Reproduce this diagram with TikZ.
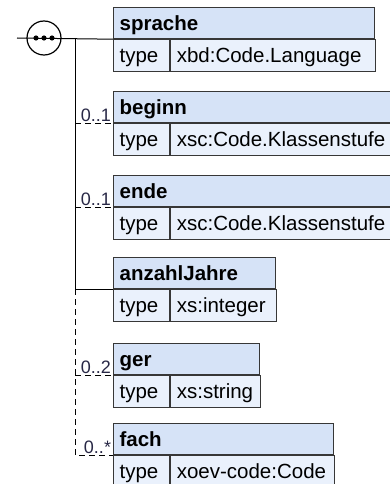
\documentclass[tikz,border=0pt]{standalone}
\usepackage{fontspec}
\setmainfont{Liberation Sans}
\definecolor{hdrblue}{RGB}{214,227,247}
\definecolor{rowblue}{RGB}{234,241,252}
\definecolor{boxline}{RGB}{55,55,55}
\definecolor{occtext}{RGB}{40,40,70}

\begin{document}
\begin{tikzpicture}[x=1pt,y=-1pt,
    hdr/.style={draw=boxline,fill=hdrblue,line width=1.2pt,anchor=north west,align=left,
        font=\fontsize{20.5}{24}\selectfont\bfseries,inner xsep=6pt,inner ysep=0pt,
        text height=17pt,text depth=3pt,minimum height=31pt},
    row/.style={hdr,fill=rowblue,font=\fontsize{20.5}{24}\selectfont,minimum height=32pt},
    wire/.style={draw=black,line width=1pt},
    opt/.style={wire,dash pattern=on 6pt off 4pt},
    occ/.style={pos=1,anchor=south east,inner sep=1.5pt,text=occtext,font=\fontsize{18}{20}\selectfont}]
    \clip (0,0) rectangle (390,484);

    % sequence compositor
    \coordinate (in) at (17,38);
    \node[circle,draw=black,fill=white,line width=1.2pt,minimum size=34pt,inner sep=0pt] (seq) at (44,38) {};
    \coordinate (fork) at (75,38);

    % elements
    \node[hdr,text width=249pt] (sprache) at (113,7) {sprache};
    \node[row,text width=44pt] (sprache-t) at (sprache.south west) {type};
    \node[row,text width=193pt] (sprache-v) at (sprache-t.north east) {xbd:Code.Language};

    \node[hdr,text width=271pt] (beginn) at (113,91) {beginn};
    \node[row,text width=44pt] (beginn-t) at (beginn.south west) {type};
    \node[row,text width=215pt] (beginn-v) at (beginn-t.north east) {xsc:Code.Klassenstufe};

    \node[hdr,text width=271pt] (ende) at (113,175) {ende};
    \node[row,text width=44pt] (ende-t) at (ende.south west) {type};
    \node[row,text width=215pt] (ende-v) at (ende-t.north east) {xsc:Code.Klassenstufe};

    \node[hdr,text width=150pt] (anzahl) at (113,257) {anzahlJahre};
    \node[row,text width=44pt] (anzahl-t) at (anzahl.south west) {type};
    \node[row,text width=94pt] (anzahl-v) at (anzahl-t.north east) {xs:integer};

    \node[hdr,text width=134pt] (ger) at (113,343) {ger};
    \node[row,text width=44pt] (ger-t) at (ger.south west) {type};
    \node[row,text width=78pt] (ger-v) at (ger-t.north east) {xs:string};

    \node[hdr,text width=208pt] (fach) at (113,423) {fach};
    \node[row,text width=44pt] (fach-t) at (fach.south west) {type};
    \node[row,text width=152pt] (fach-v) at (fach-t.north east) {xoev-code:Code};

    % connectors
    \draw[wire] (in) -- (sprache-t.north west);
    \foreach \d in {-8,0,8} \fill (44+\d,38) circle (2.6pt);
    \draw[wire] (fork) -- (fork |- anzahl-t.north west) -- (anzahl-t.north west);
    \draw[opt] (fork |- beginn-t.north west) -- node[occ] {0..1} (beginn-t.north west);
    \draw[opt] (fork |- ende-t.north west) -- node[occ] {0..1} (ende-t.north west);
    \draw[opt] (fork |- anzahl-t.north west) -- (fork |- fach-t.north west) -- node[occ] {0..*} (fach-t.north west);
    \draw[opt] (fork |- ger-t.north west) -- node[occ] {0..2} (ger-t.north west);
\end{tikzpicture}
\end{document}
